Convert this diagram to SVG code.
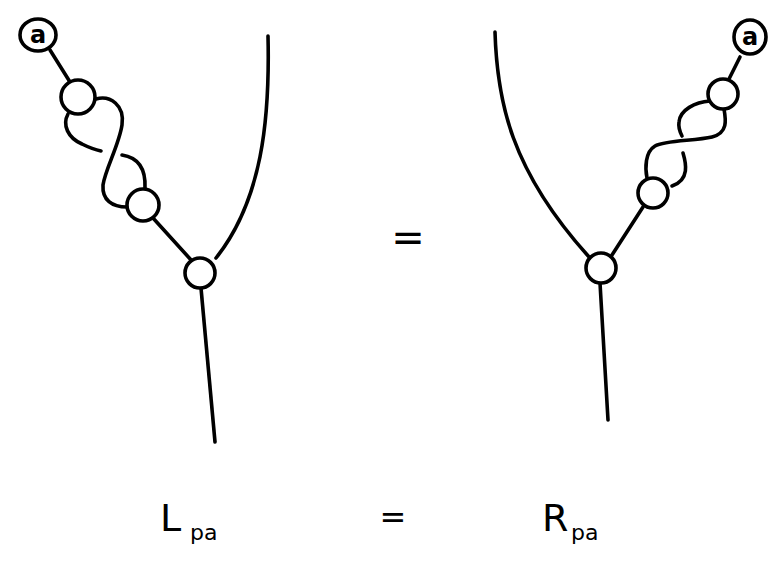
<svg xmlns="http://www.w3.org/2000/svg" width="784" height="561" viewBox="0 0 784 561">
<style>
.s{fill:none;stroke:#000;stroke-width:3.6;stroke-linecap:round;stroke-linejoin:round}
.n{fill:#fff;stroke:#000;stroke-width:3.6}
.t{font-family:"DejaVu Sans",sans-serif;fill:#000}
</style>
<rect width="784" height="561" fill="#fff"/>
<g id="connectors">
<path class="s" d="M50,50 L70,82"/>
<path class="s" d="M96,99 C110,95 125,105 122,125 C119,145 105,170 103,185 C102,200 112,207 127,207"/>
<path class="s" d="M68,114 C62,125 68,138 82,144 C90,148 96,150 101,151"/>
<path class="s" d="M122,155 C135,157 146,165 145,188"/>
<path class="s" d="M153,218 L192,261"/>
<path class="s" d="M201,288 L215,442"/>
<path class="s" d="M268,36 C270,120 262,200 216,258"/>
<path class="s" d="M740,57 L729,79"/>
<path class="s" d="M710,101 C695,102 680,110 679,122 C678,128 680,132 682,136"/>
<path class="s" d="M683,153 C686,163 690,180 672,186"/>
<path class="s" d="M724,109 C726,120 728,133 712,137 C695,141 665,140 655,146 C645,152 645,168 647,178"/>
<path class="s" d="M643,207 L612,255"/>
<path class="s" d="M600,283 L608,420"/>
<path class="s" d="M495,32 C497,100 510,170 590,258"/>
</g>
<g id="nodeA_L"><ellipse class="n" cx="38" cy="35" rx="18" ry="16"/><text class="t" x="38" y="43" font-size="24" font-weight="bold" text-anchor="middle">a</text></g>
<g id="bead1_L"><circle class="n" cx="78" cy="97" r="17"/></g>
<g id="bead2_L"><circle class="n" cx="143" cy="205" r="16"/></g>
<g id="vertex_L"><circle class="n" cx="200" cy="273" r="15"/></g>
<g id="nodeA_R"><ellipse class="n" cx="750" cy="37" rx="16" ry="17"/><text class="t" x="750" y="45" font-size="24" font-weight="bold" text-anchor="middle">a</text></g>
<g id="bead1_R"><circle class="n" cx="723" cy="94" r="15"/></g>
<g id="bead2_R"><circle class="n" cx="653" cy="193" r="15"/></g>
<g id="vertex_R"><circle class="n" cx="601" cy="268" r="15"/></g>
<g id="labels">
<text class="t" x="408" y="251" font-size="40" text-anchor="middle">=</text>
<text class="t" x="393" y="528" font-size="32" text-anchor="middle">=</text>
<text class="t" x="160" y="531" font-size="38">L</text>
<text class="t" x="190" y="540" font-size="22">pa</text>
<text class="t" x="542" y="531" font-size="38">R</text>
<text class="t" x="571" y="540" font-size="22">pa</text>
</g>
</svg>
